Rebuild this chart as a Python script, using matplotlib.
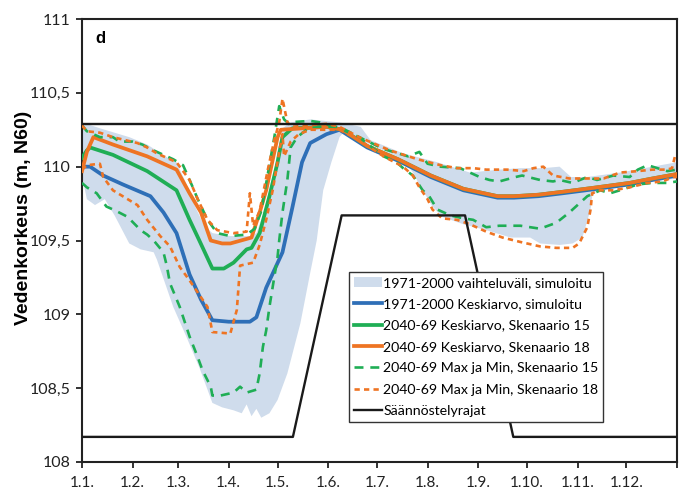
import matplotlib
matplotlib.use('Agg')
import matplotlib.pyplot as plt
import numpy as np

# x = day of year (0 = 1.1., 365 = 31.12.)
month_days = [0, 31, 59, 90, 120, 151, 181, 212, 243, 273, 304, 334]
month_labels = ['1.1.', '1.2.', '1.3.', '1.4.', '1.5.', '1.6.', '1.7.', '1.8.', '1.9.', '1.10.', '1.11.', '1.12.']

# 1971-2000 vaihteluvali (band)
band_up_days = [0, 11, 29, 40, 54, 58, 63, 69, 75, 80, 91, 103, 107, 111, 117, 120, 123, 128, 140, 158, 171, 177,
                197, 218, 238, 256, 269, 283, 293, 300, 310, 330, 350, 365]
band_up_vals = [110.30, 110.26, 110.20, 110.15, 110.05, 110.03, 109.91, 109.74, 109.60, 109.55, 109.53, 109.53,
                109.55, 109.67, 109.91, 110.11, 110.26, 110.30, 110.32, 110.30, 110.27, 110.18, 110.09, 110.03,
                109.96, 109.98, 109.99, 109.99, 110.00, 109.93, 109.93, 109.96, 110.00, 110.03]
band_lo_days = [0, 3, 8, 14, 20, 29, 36, 44, 46, 56, 64, 72, 77, 80, 86, 93, 98, 101, 104, 107, 110, 115, 120,
                126, 134, 140, 144, 148, 153, 158, 161, 171, 185, 197, 203, 209, 215, 221, 234, 248, 263, 275,
                281, 293, 301, 307, 312, 313, 318, 330, 350, 365]
band_lo_vals = [109.94, 109.78, 109.74, 109.78, 109.67, 109.48, 109.44, 109.42, 109.37, 109.05, 108.85, 108.64,
                108.49, 108.40, 108.37, 108.35, 108.33, 108.39, 108.31, 108.36, 108.30, 108.33, 108.42, 108.60,
                108.94, 109.28, 109.50, 109.84, 110.03, 110.20, 110.24, 110.18, 110.11, 110.05, 109.96, 109.84,
                109.73, 109.66, 109.61, 109.57, 109.52, 109.52, 109.48, 109.47, 109.48, 109.52, 109.71, 109.80,
                109.86, 109.88, 109.90, 109.92]

# 1971-2000 Keskiarvo
blue_days = [0, 5, 13, 25, 42, 50, 58, 66, 73, 80, 90, 103, 107, 113, 118, 123, 129, 135, 140, 150, 158, 175,
             194, 214, 234, 255, 265, 280, 295, 316, 336, 350, 365]
blue_vals = [110.00, 110.00, 109.94, 109.88, 109.80, 109.69, 109.55, 109.27, 109.10, 108.96, 108.95, 108.95,
             108.98, 109.18, 109.30, 109.42, 109.72, 110.03, 110.16, 110.22, 110.25, 110.13, 110.04, 109.93,
             109.84, 109.79, 109.79, 109.80, 109.82, 109.85, 109.88, 109.91, 109.94]

# 2040-69 Keskiarvo, Skenaario 15
s15_days = [0, 3, 5, 19, 40, 58, 66, 72, 80, 87, 93, 101, 104, 109, 115, 120, 123, 129, 150, 160, 175, 194,
            214, 234, 255, 265, 280, 295, 316, 336, 350, 365]
s15_vals = [110.06, 110.11, 110.13, 110.08, 109.97, 109.84, 109.64, 109.50, 109.31, 109.31, 109.35, 109.44,
            109.45, 109.55, 109.80, 110.03, 110.20, 110.26, 110.27, 110.25, 110.14, 110.05, 109.94, 109.85,
            109.80, 109.80, 109.81, 109.83, 109.86, 109.89, 109.92, 109.95]

# 2040-69 Keskiarvo, Skenaario 18
s18_days = [0, 3, 7, 19, 40, 58, 66, 73, 79, 86, 91, 104, 109, 113, 120, 122, 150, 160, 175, 194, 214, 234,
            255, 265, 280, 295, 316, 336, 350, 365]
s18_vals = [109.97, 110.10, 110.20, 110.15, 110.07, 109.98, 109.82, 109.69, 109.50, 109.48, 109.48, 109.52,
            109.69, 109.84, 110.20, 110.25, 110.27, 110.25, 110.14, 110.05, 109.94, 109.85, 109.80, 109.80,
            109.81, 109.83, 109.86, 109.89, 109.92, 109.95]

# 2040-69 Max ja Min, Skenaario 15
s15max_days = [0, 3, 11, 19, 23, 31, 37, 44, 50, 56, 62, 64, 68, 71, 77, 83, 91, 101, 106, 110, 114, 118, 121,
               124, 126, 140, 146, 158, 170, 185, 200, 207, 212, 220, 232, 244, 250, 256, 266, 270, 281, 289,
               293, 301, 310, 316, 326, 336, 341, 347, 353, 359, 365]
s15max_vals = [110.28, 110.24, 110.20, 110.20, 110.17, 110.17, 110.15, 110.11, 110.08, 110.05, 110.01, 109.96,
               109.86, 109.78, 109.64, 109.55, 109.53, 109.54, 109.58, 109.70, 109.95, 110.20, 110.41, 110.32,
               110.30, 110.31, 110.30, 110.26, 110.20, 110.12, 110.07, 110.10, 110.02, 110.00, 109.99, 109.93,
               109.91, 109.90, 109.93, 109.94, 109.91, 109.90, 109.91, 109.89, 109.93, 109.91, 109.94, 109.93,
               109.98, 110.01, 109.99, 109.97, 109.98]
s15min_days = [0, 3, 9, 15, 21, 28, 36, 40, 44, 50, 52, 54, 60, 66, 71, 74, 79, 80, 85, 93, 97, 101, 107, 109,
               111, 113, 115, 120, 121, 123, 126, 128, 132, 140, 158, 170, 185, 193, 197, 203, 209, 213, 218,
               226, 234, 240, 248, 256, 269, 281, 291, 299, 310, 318, 324, 330, 341, 350, 359, 365]
s15min_vals = [109.89, 109.86, 109.82, 109.73, 109.70, 109.66, 109.57, 109.54, 109.50, 109.42, 109.33, 109.21,
               109.05, 108.85, 108.71, 108.62, 108.51, 108.45, 108.45, 108.47, 108.51, 108.47, 108.49, 108.60,
               108.78, 108.89, 109.05, 109.39, 109.50, 109.69, 109.91, 110.13, 110.20, 110.27, 110.27, 110.20,
               110.07, 110.03, 109.99, 109.94, 109.84, 109.80, 109.71, 109.67, 109.65, 109.64, 109.59, 109.60,
               109.60, 109.58, 109.62, 109.69, 109.80, 109.84, 109.82, 109.84, 109.88, 109.89, 109.89, 109.90]

# 2040-69 Max ja Min, Skenaario 18
s18max_days = [0, 3, 11, 19, 34, 40, 46, 58, 66, 71, 77, 83, 93, 101, 103, 105, 109, 114, 118, 121, 123, 126,
               129, 150, 158, 170, 189, 206, 220, 230, 240, 248, 261, 271, 277, 283, 289, 299, 320, 330, 341,
               350, 359, 362, 364, 365]
s18max_vals = [110.28, 110.24, 110.23, 110.20, 110.16, 110.13, 110.09, 110.03, 109.91, 109.78, 109.64, 109.57,
               109.55, 109.56, 109.82, 109.60, 109.70, 109.98, 110.18, 110.30, 110.46, 110.30, 110.27, 110.29,
               110.27, 110.20, 110.11, 110.05, 110.01, 109.99, 109.99, 109.98, 109.98, 109.97, 109.99, 110.00,
               109.94, 109.92, 109.92, 109.96, 109.97, 109.98, 109.98, 109.99, 110.08, 110.08]
s18min_days = [0, 3, 11, 13, 19, 25, 34, 40, 48, 54, 60, 66, 77, 80, 91, 95, 97, 105, 109, 113, 117, 121, 123,
               124, 128, 133, 140, 158, 170, 185, 197, 203, 207, 212, 215, 221, 230, 238, 248, 258, 269, 281,
               291, 301, 305, 310, 312, 313, 318, 326, 336, 347, 356, 363, 365]
s18min_vals = [109.98, 110.01, 110.02, 109.93, 109.84, 109.80, 109.74, 109.64, 109.53, 109.46, 109.32, 109.23,
               109.05, 108.88, 108.87, 109.03, 109.33, 109.35, 109.47, 109.64, 109.84, 110.10, 110.22, 110.07,
               110.17, 110.22, 110.25, 110.25, 110.18, 110.07, 110.00, 109.94, 109.86, 109.78, 109.71, 109.65,
               109.64, 109.61, 109.56, 109.52, 109.49, 109.46, 109.45, 109.45, 109.48, 109.59, 109.71, 109.82,
               109.84, 109.84, 109.86, 109.89, 109.90, 109.93, 109.93]

# Saannostelyrajat
reg_up_days = [0, 365]
reg_up_vals = [110.29, 110.29]
reg_lo_days = [0, 129.4, 159.3, 235, 264.6, 365]
reg_lo_vals = [108.17, 108.17, 109.67, 109.67, 108.17, 108.17]

c_band = '#cfdcec'
c_blue = '#2e6fb7'
c_green = '#1fae55'
c_orange = '#ee7423'

fig = plt.figure(figsize=(6.86, 4.94), dpi=100)
ax = fig.add_axes([0.1195, 0.0648, 0.8673, 0.8967])

fnt = ['Lato', 'DejaVu Sans']

ax.fill(np.concatenate([band_up_days, band_lo_days[::-1]]),
        np.concatenate([band_up_vals, band_lo_vals[::-1]]),
        color=c_band, lw=0, zorder=1, label='1971-2000 vaihteluväli, simuloitu')
ax.plot(blue_days, blue_vals, color=c_blue, lw=2.7, zorder=3, label='1971-2000 Keskiarvo, simuloitu')
ax.plot(s15_days, s15_vals, color=c_green, lw=2.7, zorder=3, label='2040-69 Keskiarvo, Skenaario 15')
ax.plot(s18_days, s18_vals, color=c_orange, lw=2.7, zorder=3, label='2040-69 Keskiarvo, Skenaario 18')
ax.plot(s15max_days, s15max_vals, color=c_green, lw=1.9, ls=(0, (3.4, 2.6)), zorder=4,
        label='2040-69 Max ja Min, Skenaario 15')
ax.plot(s15min_days, s15min_vals, color=c_green, lw=1.9, ls=(0, (3.4, 2.6)), zorder=4)
ax.plot(s18max_days, s18max_vals, color=c_orange, lw=1.9, ls=(0, (2.0, 1.6)), zorder=4,
        label='2040-69 Max ja Min, Skenaario 18')
ax.plot(s18min_days, s18min_vals, color=c_orange, lw=1.9, ls=(0, (2.0, 1.6)), zorder=4)
ax.plot(reg_up_days, reg_up_vals, color='#1a1a1a', lw=1.7, zorder=5, label='Säännöstelyrajat')
ax.plot(reg_lo_days, reg_lo_vals, color='#1a1a1a', lw=1.7, zorder=5)

ax.set_xlim(0, 365)
ax.set_ylim(108, 111)
ax.set_xticks(month_days + [365])
ax.set_xticklabels(month_labels + [''], family=fnt, fontsize=11, color='#222222')
yt = [108, 108.5, 109, 109.5, 110, 110.5, 111]
ax.set_yticks(yt)
ax.set_yticklabels([('%g' % v).replace('.', ',') for v in yt], family=fnt, fontsize=11.5, color='#222222')
ax.tick_params(direction='out', length=4, width=1.3, colors='#222222', pad=4)
ax.tick_params(axis='x', pad=6)
for s in ax.spines.values():
    s.set_linewidth(1.5)
    s.set_color('#222222')

ax.set_ylabel('Vedenkorkeus (m, N60)', family='Liberation Sans', fontweight='bold', fontsize=14)
ax.yaxis.set_label_coords(-0.084, 0.55)
ax.text(0.022, 0.955, 'd', transform=ax.transAxes, fontsize=12, fontweight='bold', va='center',
        family='Liberation Sans')

leg = ax.legend(loc='upper left', bbox_to_anchor=(0.449, 0.429), borderaxespad=0, fancybox=False,
                framealpha=1, edgecolor='#333333', prop={'family': fnt, 'size': 10.2},
                handlelength=2.0, handletextpad=0.05, labelspacing=0.66, borderpad=0.35)
leg.get_frame().set_linewidth(1.0)

plt.savefig('out.png', dpi=100)
